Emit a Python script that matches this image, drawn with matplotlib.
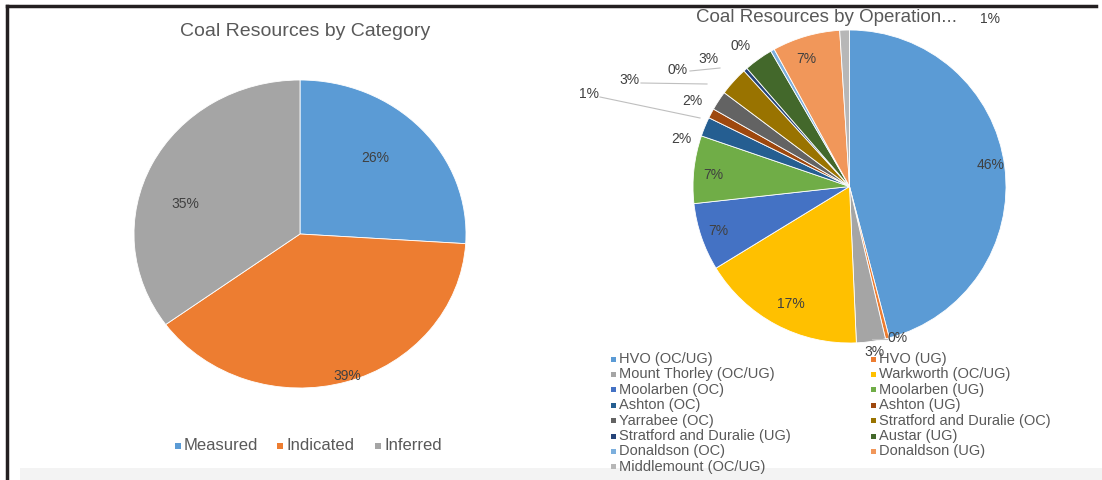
import matplotlib.pyplot as plt
from matplotlib.lines import Line2D
from matplotlib.patches import Rectangle

# category split
cat_names = ['Measured', 'Indicated', 'Inferred']
cat_pct = [26, 39, 35]
cat_colors = ['#5B9BD5', '#ED7D31', '#A5A5A5']

# split by operation
op_names = ['HVO (OC/UG)', 'HVO (UG)', 'Mount Thorley (OC/UG)', 'Warkworth (OC/UG)',
            'Moolarben (OC)', 'Moolarben (UG)', 'Ashton (OC)', 'Ashton (UG)',
            'Yarrabee (OC)', 'Stratford and Duralie (OC)', 'Stratford and Duralie (UG)',
            'Austar (UG)', 'Donaldson (OC)', 'Donaldson (UG)', 'Middlemount (OC/UG)']
op_pct = [46, 0.4, 3, 17, 7, 7, 2, 1, 2, 3, 0.4, 3, 0.4, 7, 1]
op_colors = ['#5B9BD5', '#ED7D31', '#A5A5A5', '#FFC000', '#4472C4', '#70AD47',
             '#255E91', '#9E480E', '#636363', '#997300', '#264478', '#43682B',
             '#7CAFDD', '#F1975A', '#B7B7B7']

W, H = 1102, 480
TXT = '#595959'
plt.rcParams['font.family'] = ['Liberation Sans', 'DejaVu Sans']
fig = plt.figure(figsize=(W / 100, H / 100), dpi=100)


def box(x0, y0, x1, y1):
    # pixel box -> figure fraction rect
    return [x0 / W, 1 - y1 / H, (x1 - x0) / W, (y1 - y0) / H]


# left pie
ax1 = fig.add_axes(box(134, 80, 466, 388))
ax1.pie(cat_pct, colors=cat_colors, startangle=90, counterclock=False,
        radius=1, wedgeprops=dict(linewidth=0.6, edgecolor='white'))
ax1.set_aspect('auto')
ax1.set_xlim(-1, 1)
ax1.set_ylim(-1, 1)
ax1.axis('off')

# right pie
ax2 = fig.add_axes(box(693, 30, 1006, 343))
ax2.pie(op_pct, colors=op_colors, startangle=90, counterclock=False,
        radius=1, wedgeprops=dict(linewidth=0.6, edgecolor='white'))
ax2.set_aspect('auto')
ax2.set_xlim(-1, 1)
ax2.set_ylim(-1, 1)
ax2.axis('off')

# overlay in pixel units for frame, labels and legends
top = fig.add_axes([0, 0, 1, 1])
top.set_xlim(0, W)
top.set_ylim(H, 0)
top.axis('off')
top.patch.set_alpha(0)
top.add_line(Line2D([7, 1096], [6, 6], color='#231f20', lw=2.5))
top.add_line(Line2D([7, 7], [6, 480], color='#231f20', lw=2.5))
top.add_patch(Rectangle((20, 468), 1082, 12, color='#f3f3f3', lw=0))

top.text(305, 31, 'Coal Resources by Category', ha='center', va='center',
         fontsize=14, color=TXT)
top.text(827, 17, 'Coal Resources by Operation...', ha='center', va='center',
         fontsize=13.5, color=TXT)

for txt, x, y in [('26%', 375, 158), ('39%', 347, 376), ('35%', 185, 204)]:
    top.text(x, y, txt, ha='center', va='center', fontsize=10, color='#404040')

# left legend
items = [(175, 'Measured'), (277, 'Indicated'), (375, 'Inferred')]
for (x, name), c in zip(items, cat_colors):
    top.add_patch(Rectangle((x, 443), 6, 6, color=c, lw=0))
    top.text(x + 9, 446, name, ha='left', va='center', fontsize=12, color=TXT)

op_labels = [('46%', 991, 165), ('17%', 791, 304), ('7%', 718, 231), ('7%', 713, 175),
             ('2%', 681, 139), ('2%', 692, 101), ('1%', 589, 94), ('3%', 629, 80),
             ('0%', 678, 70), ('3%', 708, 59), ('0%', 741, 46), ('7%', 806, 59),
             ('1%', 990, 19), ('0%', 898, 338), ('3%', 874, 352)]
for txt, x, y in op_labels:
    top.text(x, y, txt, ha='center', va='center', fontsize=10, color='#404040')

# leader lines for the small slices
for xs, ys in [([600, 700], [97, 118]), ([641, 707], [83, 84]),
               ([690, 720], [71, 68]), ([872, 887], [339, 339])]:
    top.add_line(Line2D(xs, ys, color='#bfbfbf', lw=0.8))

# right legend, two columns
for i, (name, c) in enumerate(zip(op_names, op_colors)):
    col, row = i % 2, i // 2
    x = 611 if col == 0 else 871
    y = 359 + row * 15.4
    top.add_patch(Rectangle((x, y - 2.5), 5, 5, color=c, lw=0))
    top.text(x + 8, y, name, ha='left', va='center', fontsize=10.5, color=TXT)

fig.savefig('out.png', dpi=100)
